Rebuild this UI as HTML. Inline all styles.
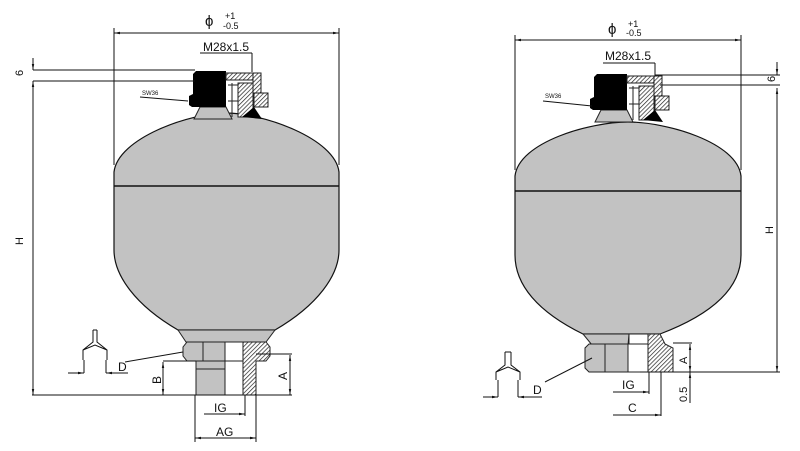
<!DOCTYPE html>
<html><head><meta charset="utf-8"><style>
html,body{margin:0;padding:0;background:#fff;}
svg{display:block;}
text{font-family:"Liberation Sans",sans-serif;fill:#111;}
</style></head><body>
<svg width="800" height="451" viewBox="0 0 800 451" xmlns="http://www.w3.org/2000/svg">
<defs>
<pattern id="h" patternUnits="userSpaceOnUse" width="3" height="3" patternTransform="rotate(45)">
<rect width="3" height="3" fill="#fff"/><line x1="0" y1="0" x2="0" y2="3" stroke="#222" stroke-width="1.4"/>
</pattern>
<marker id="a" viewBox="0 0 10 10" refX="10" refY="5" markerWidth="6" markerHeight="6" orient="auto-start-reverse"><path d="M0,3 L10,5 L0,7z" fill="#111"/></marker>
<g id="cap">
<path d="M2,48 L8,36 L34,36 L40,48 Z" fill="#c2c2c2" stroke="#222" stroke-width="1"/>
<path d="M4,0 L34,0 L34,36 L0,36 L-3,34 L-3,25 L1,23 L1,3 Z" fill="#000"/>
<rect x="34" y="2" width="34" height="7" fill="url(#h)" stroke="#222" stroke-width="1"/>
<rect x="61" y="2" width="8" height="34" fill="url(#h)" stroke="#222" stroke-width="1"/>
<rect x="62" y="22" width="14" height="14" fill="url(#h)" stroke="#222" stroke-width="1"/>
<path d="M46,12 L61,12 L61,40 L56,46 L46,46 Z" fill="url(#h)" stroke="#222" stroke-width="1"/>
<path d="M50,46 L62,36 L70,48 Z" fill="#000"/>
<line x1="36" y1="14" x2="46" y2="14" stroke="#222"/><line x1="36" y1="30" x2="46" y2="30" stroke="#222"/>
<line x1="40" y1="12" x2="40" y2="46" stroke="#222"/>
</g>
</defs>

<path d="M178,330 C135,305 114,275 114,250 L114,172 C118,138 190,113 226,113 C262,113 335,138 339,172 L339,250 C339,275 318,305 275,330 Z" fill="#c2c2c2" stroke="#111" stroke-width="1.2"/>
<line x1="114" y1="186" x2="339" y2="186" stroke="#111" stroke-width="1.5"/>
<path d="M178,330 L275,330 L266,342 L186,342 Z" fill="#c2c2c2" stroke="#222"/>
<use href="#cap" x="192" y="71"/>
<path d="M187,342 L225,342 L225,361 L187,361 L183,356 L183,347 Z" fill="#c2c2c2" stroke="#222"/>
<line x1="203" y1="342" x2="203" y2="361" stroke="#222"/>
<rect x="225" y="342" width="18" height="19" fill="#fff" stroke="#222"/>
<path d="M243,342 L266,342 L270,347 L270,356 L266,361 L256,361 L256,395 L243,395 Z" fill="url(#h)" stroke="#222"/>
<rect x="196" y="361" width="29" height="34" fill="#c2c2c2" stroke="#222"/>
<line x1="196" y1="369" x2="225" y2="369" stroke="#222"/>
<rect x="225" y="361" width="18" height="34" fill="#fff" stroke="#222"/>
<g stroke="#111" stroke-width="1" fill="none">
<line x1="114" y1="28" x2="114" y2="165"/><line x1="339" y1="28" x2="339" y2="165"/>
<line x1="114" y1="33" x2="339" y2="33" marker-start="url(#a)" marker-end="url(#a)"/>
<line x1="200" y1="53" x2="252" y2="53"/><line x1="252" y1="53" x2="252" y2="72"/>
<line x1="33" y1="70" x2="195" y2="70"/><line x1="33" y1="81" x2="195" y2="81"/>
<line x1="33" y1="58" x2="33" y2="70" marker-end="url(#a)"/>
<line x1="33" y1="81" x2="33" y2="395" marker-start="url(#a)" marker-end="url(#a)"/>
<line x1="32" y1="395" x2="292" y2="395"/>
<line x1="140" y1="97" x2="188" y2="101"/>
<line x1="125" y1="362" x2="183" y2="352"/>
<line x1="163" y1="361" x2="196" y2="361"/>
<line x1="163" y1="362" x2="163" y2="395" marker-start="url(#a)" marker-end="url(#a)"/>
<line x1="256" y1="354" x2="292" y2="354"/>
<line x1="290" y1="355" x2="290" y2="395" marker-start="url(#a)" marker-end="url(#a)"/>
<line x1="195" y1="395" x2="195" y2="442"/><line x1="256" y1="395" x2="256" y2="442"/>
<line x1="245" y1="395" x2="245" y2="416"/>
<line x1="204" y1="414" x2="245" y2="414" marker-end="url(#a)"/>
<line x1="195" y1="438" x2="256" y2="438" marker-start="url(#a)" marker-end="url(#a)"/>
<path d="M93,330 L93,342 L83,350 L83,360 M97,330 L97,342 L107,350 L107,360 M83,350 L95,345 L107,350 M84,360 L84,373 M106,360 L106,373 M93,330 L97,330"/>
<line x1="68" y1="373" x2="84" y2="373" marker-end="url(#a)"/>
<line x1="128" y1="373" x2="106" y2="373" marker-end="url(#a)"/>
</g>
<text x="205" y="26" font-size="15">ϕ</text>
<text x="225" y="19" font-size="9">+1</text><text x="223" y="29" font-size="9">-0.5</text>
<text x="203" y="51" font-size="12">M28x1.5</text>
<text x="142" y="95" font-size="6">SW36</text>
<text x="0" y="0" font-size="11" transform="translate(23,76) rotate(-90)">6</text>
<text x="0" y="0" font-size="11" transform="translate(23,245) rotate(-90)">H</text>
<text x="118" y="371" font-size="12">D</text>
<text x="0" y="0" font-size="12" transform="translate(161,384) rotate(-90)">B</text>
<text x="0" y="0" font-size="12" transform="translate(287,380) rotate(-90)">A</text>
<text x="214" y="412" font-size="12">IG</text>
<text x="216" y="436" font-size="12">AG</text>

<path d="M583,334 C538,312 515,285 515,255 L515,176 C519,142 590,122 628,122 C666,122 737,142 741,176 L741,255 C741,285 718,312 660,334 Z" fill="#c2c2c2" stroke="#111" stroke-width="1.2"/>
<line x1="515" y1="191" x2="741" y2="191" stroke="#111" stroke-width="1.5"/>
<path d="M583,334 L629,334 L628,345 L592,345 Z" fill="#c2c2c2" stroke="#222"/>
<rect x="629" y="334" width="19" height="10" fill="#fff" stroke="#222"/>
<use href="#cap" x="593" y="74"/>
<path d="M589,344 L628,344 L628,372 L589,372 L585,368 L585,348 Z" fill="#c2c2c2" stroke="#222"/>
<line x1="605" y1="344" x2="605" y2="372" stroke="#222"/>
<rect x="628" y="344" width="20" height="28" fill="#fff" stroke="#222"/>
<path d="M648,334 L660,334 L665,344 L673,348 L673,372 L648,372 Z" fill="url(#h)" stroke="#222"/>
<g stroke="#111" stroke-width="1" fill="none">
<line x1="515" y1="35" x2="515" y2="170"/><line x1="741" y1="35" x2="741" y2="170"/>
<line x1="515" y1="40" x2="741" y2="40" marker-start="url(#a)" marker-end="url(#a)"/>
<line x1="603" y1="63" x2="655" y2="63"/><line x1="655" y1="63" x2="655" y2="76"/>
<line x1="655" y1="75" x2="780" y2="75"/><line x1="660" y1="85" x2="780" y2="85"/>
<line x1="777" y1="62" x2="777" y2="75" marker-end="url(#a)"/>
<line x1="777" y1="88" x2="777" y2="372" marker-start="url(#a)" marker-end="url(#a)"/>
<line x1="640" y1="372" x2="780" y2="372"/>
<line x1="543" y1="101" x2="592" y2="106"/>
<line x1="545" y1="382" x2="592" y2="358"/>
<line x1="673" y1="343" x2="692" y2="343"/>
<line x1="690" y1="344" x2="690" y2="372" marker-start="url(#a)" marker-end="url(#a)"/>
<line x1="690" y1="372" x2="690" y2="403" marker-start="url(#a)"/>
<line x1="649" y1="372" x2="649" y2="394"/><line x1="661" y1="372" x2="661" y2="416"/>
<line x1="613" y1="392" x2="649" y2="392" marker-end="url(#a)"/>
<line x1="613" y1="415" x2="661" y2="415" marker-end="url(#a)"/>
<path d="M505,352 L505,365 L496,372 L496,380 M511,352 L511,365 L520,372 L520,380 M496,372 L508,367 L520,372 M498,380 L498,397 M518,380 L518,397 M505,352 L511,352"/>
<line x1="483" y1="397" x2="498" y2="397" marker-end="url(#a)"/>
<line x1="542" y1="397" x2="518" y2="397" marker-end="url(#a)"/>
</g>
<text x="608" y="34" font-size="15">ϕ</text>
<text x="628" y="27" font-size="9">+1</text><text x="626" y="36" font-size="9">-0.5</text>
<text x="605" y="60" font-size="12">M28x1.5</text>
<text x="545" y="98" font-size="6">SW36</text>
<text x="0" y="0" font-size="11" transform="translate(775,82) rotate(-90)">6</text>
<text x="0" y="0" font-size="11" transform="translate(773,234) rotate(-90)">H</text>
<text x="533" y="394" font-size="12">D</text>
<text x="0" y="0" font-size="11" transform="translate(687,364) rotate(-90)">A</text>
<text x="0" y="0" font-size="11" transform="translate(687,402) rotate(-90)">0.5</text>
<text x="622" y="389" font-size="12">IG</text>
<text x="628" y="412" font-size="12">C</text>
</svg>
</body></html>
